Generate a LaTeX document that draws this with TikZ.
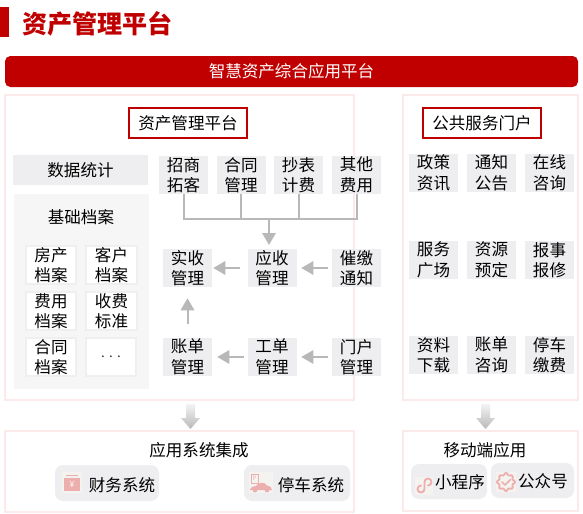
\documentclass[tikz,border=0pt]{standalone}
\usepackage{fontspec}
\setmainfont{Noto Sans CJK SC}
\usetikzlibrary{arrows.meta}
\definecolor{brandred}{HTML}{C00000}
\definecolor{panelpink}{HTML}{FCE9E9}
\definecolor{cellgrey}{HTML}{EEEEF0}
\definecolor{softgrey}{HTML}{F6F6F6}
\definecolor{cellline}{HTML}{EFEFEF}
\definecolor{linegrey}{HTML}{B8B8B8}
\definecolor{iconpink}{HTML}{EDAEAE}
\definecolor{icontile}{HTML}{F5F3F0}
\tikzset{
  x=0.75pt,y=-0.75pt,
  txt/.style={font=\fontsize{12.4pt}{15.4pt}\selectfont,inner sep=0pt,align=center,text=black},
  cell/.style={txt,fill=cellgrey,minimum width=36.75pt,minimum height=28.5pt},
  whitecell/.style={txt,fill=white,draw=cellline,line width=1.5pt,minimum width=38pt,minimum height=29pt},
  panel/.style={draw=panelpink,line width=1.5pt,fill=white},
  redtitle/.style={txt,draw=brandred,line width=1.5pt,fill=white,minimum width=88.5pt,minimum height=22.5pt},
  pill/.style={fill=cellgrey,rounded corners=6pt},
  flow/.style={draw=linegrey,line width=1.5pt,-{Triangle[length=9pt,width=10pt]}},
  bus/.style={draw=linegrey,line width=1.5pt},
  bigarrow/.style={top color=cellgrey!70!white,bottom color=linegrey,draw=none},
  tile/.style={fill=icontile,draw=none},
  ico/.style={fill=iconpink,draw=none},
  icoline/.style={draw=iconpink,line width=1.2pt,fill=none,line cap=round,line join=round},
}
\begin{document}
\begin{tikzpicture}
\useasboundingbox[fill=white] (0,0) rectangle (583,514);
% header
\fill[brandred] (0,7) rectangle (9,37);
\node[inner sep=0pt,font=\fontsize{18.8pt}{20pt}\selectfont\bfseries,text=brandred] (title) at (97.5,24) {资产管理平台};
\node[fill=brandred,rounded corners=4pt,minimum width=429.75pt,minimum height=23.25pt,inner sep=0pt,text=white,font=\fontsize{12.4pt}{15pt}\selectfont] (bar) at (291.5,71.5) {智慧资产综合应用平台};
% panels
\draw[panel] (5,95) rectangle (354,400);
\draw[panel] (403,95) rectangle (578,400);
\draw[panel] (5,431) rectangle (354,512);
\draw[panel] (403,431) rectangle (578,511);
% section titles
\node[redtitle] (tA) at (188,123) {资产管理平台};
\node[redtitle] (tB) at (482,123) {公共服务门户};
% left column
\node[txt,fill=cellgrey,minimum width=101.25pt,minimum height=22.5pt] (stat) at (80.5,170) {数据统计};
\fill[softgrey] (14,194) rectangle (149,389);
\node[txt] (base) at (81,217) {基础档案};
\node[whitecell] (f1) at (51,265) {房产\\档案};
\node[whitecell] (f2) at (111.5,265) {客户\\档案};
\node[whitecell] (f3) at (51,311) {费用\\档案};
\node[whitecell] (f4) at (111.5,311) {收费\\标准};
\node[whitecell] (f5) at (51,357) {合同\\档案};
\node[whitecell,font=\fontsize{9pt}{11pt}\selectfont] (f6) at (111,357) {.\hspace{3.5pt}.\hspace{3.5pt}.};
% middle
\node[cell] (a1) at (183.5,175) {招商\\拓客};
\node[cell] (a2) at (241,175) {合同\\管理};
\node[cell] (a3) at (298.5,175) {抄表\\计费};
\node[cell] (a4) at (356.5,174.5) {其他\\费用};
\node[cell] (b1) at (187.5,268) {实收\\管理};
\node[cell] (b2) at (272,268) {应收\\管理};
\node[cell] (b3) at (356.5,268) {催缴\\通知};
\node[cell] (c1) at (187.5,357) {账单\\管理};
\node[cell] (c2) at (272,357) {工单\\管理};
\node[cell] (c3) at (356.5,357) {门户\\管理};
% connectors
\coordinate (busY) at (0,219);
\coordinate (busmid) at (269,219);
\coordinate (recvtop) at (269,245);
\draw[bus] (a1.south) |- (a4.south |- busY) -- (a4.south);
\draw[bus] (a2.south) -- (a2.south |- busY);
\draw[bus] (a3.south) -- (a3.south |- busY);
\draw[flow] (busmid) -- (recvtop);
\draw[flow,shorten <=5.25pt,shorten >=0.75pt] (b2.west) -- (b1.east);
\draw[flow,shorten <=3pt,shorten >=3.4pt] (b3.west) -- (b2.east);
\draw[flow,shorten <=2.25pt,shorten >=3.75pt] (c2.west) -- (c1.east);
\draw[flow,shorten <=3pt,shorten >=3.4pt] (c3.west) -- (c2.east);
\draw[flow,shorten <=10.5pt,shorten >=8.25pt] (c1.north) -- (b1.south);
% right grid
\node[cell] (p1) at (433.5,173) {政策\\资讯};
\node[cell] (p2) at (491.5,173) {通知\\公告};
\node[cell] (p3) at (549.5,173) {在线\\咨询};
\node[cell] (p4) at (433.5,260) {服务\\广场};
\node[cell] (p5) at (491.5,260) {资源\\预定};
\node[cell] (p6) at (549.5,260) {报事\\报修};
\node[cell] (p7) at (433.5,355) {资料\\下载};
\node[cell] (p8) at (491.5,355) {账单\\咨询};
\node[cell] (p9) at (549.5,355) {停车\\缴费};
% big arrows
\shade[bigarrow] (186,404) -- (195,404) -- (195,418) -- (200,418) -- (190.5,429) -- (181,418) -- (186,418) -- cycle;
\shade[bigarrow] (481,404) -- (490,404) -- (490,418) -- (495,418) -- (485.5,429) -- (476,418) -- (481,418) -- cycle;
% bottom left
\node[txt] (s1) at (199,450) {应用系统集成};
\fill[pill] (55,465) rectangle (159,501);
\fill[pill] (244,465) rectangle (350,501);
\node[txt] (s2) at (122,485) {财务系统};
\node[txt] (s3) at (311,485) {停车系统};
% finance icon
\fill[tile] (62,472) rectangle (82,493);
\fill[ico] (64,478) rectangle (80,491);
\fill[ico] (66,475) rectangle (78,476);
\node[inner sep=0pt,text=white,font=\fontsize{6.5pt}{8pt}\selectfont] (yen) at (72,484.5) {¥};
% parking icon
\fill[tile] (249,472) rectangle (273,493);
\draw[icoline,line width=0.7pt] (251,474) rectangle (258,483);
\node[inner sep=0pt,text=iconpink,font=\fontsize{4.5pt}{5pt}\selectfont] (pk) at (254.5,478.5) {P};
\fill[ico] (250,489.5) .. controls (250,487) and (253,486.5) .. (256,486) .. controls (258,482) and (265,481.5) .. (267,485.5) .. controls (270,486) and (272,487) .. (272,490) -- (250,490) -- cycle;
\fill[ico] (255,490) circle (2.4);
\fill[ico] (267,490) circle (2.4);
% bottom right
\node[txt] (s4) at (485,450) {移动端应用};
\fill[pill] (411,464) rectangle (487,499);
\fill[pill] (491,463) rectangle (574,498);
\node[txt] (s5) at (460,482.5) {小程序};
\node[txt] (s6) at (543,481) {公众号};
% mini program icon
\fill[tile] (415,477) rectangle (433,495);
\draw[icoline,line width=1.4pt] (421,485.5) .. controls (419,485.5) and (417.5,487) .. (417.5,489) .. controls (417.5,491) and (419,492.5) .. (421,492.5) .. controls (423,492.5) and (424.5,491) .. (424.5,489) -- (424.5,482) .. controls (424.5,480) and (426,478.5) .. (428,478.5) .. controls (430,478.5) and (431.5,480) .. (431.5,482) .. controls (431.5,484) and (430,485.5) .. (428,485.5);
% official account icon
\fill[tile] (496,472) rectangle (516,492);
\draw[icoline,line width=1.4pt] plot[smooth cycle,domain=0:352.5,samples=48] ({506+(8+1*cos(8*\x))*cos(\x)},{482+(8+1*cos(8*\x))*sin(\x)});
\draw[icoline] (502,482) -- (505,485) -- (510.5,479.5);
\end{tikzpicture}
\end{document}
